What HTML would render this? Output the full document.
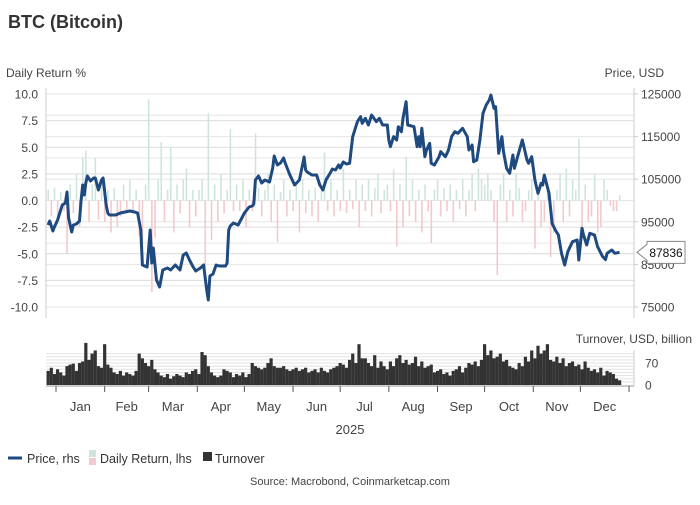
<!DOCTYPE html>
<html><head><meta charset="utf-8">
<style>
body{margin:0;background:#fff;font-family:"Liberation Sans",sans-serif;}
svg text{font-family:"Liberation Sans",sans-serif;}
</style></head>
<body>
<svg id="chart" width="700" height="500" viewBox="0 0 700 500" xmlns="http://www.w3.org/2000/svg">
<text x="8" y="28" font-size="18" font-weight="bold" fill="#333">BTC (Bitcoin)</text>
<text x="6" y="77" font-size="12" fill="#444">Daily Return %</text>
<text x="664" y="77" font-size="12" fill="#444" text-anchor="end">Price, USD</text>
<text x="692" y="343" font-size="12" fill="#444" text-anchor="end">Turnover, USD, billion</text>
<g id="grid"></g><g id="rets"></g><g id="turn"></g><g id="axes"></g><g id="price"></g>
<text x="350" y="434" font-size="13" fill="#444" text-anchor="middle">2025</text>
<g>
<line x1="8" y1="458" x2="22" y2="458" stroke="#1f4a7f" stroke-width="3"/>
<text x="27" y="463" font-size="12.5" fill="#333">Price, rhs</text>
<rect x="89" y="450" width="7" height="7" fill="#cfe5dc"/>
<rect x="89" y="458" width="7" height="7" fill="#f2c9cc"/>
<text x="100" y="463" font-size="12.5" fill="#333">Daily Return, lhs</text>
<rect x="203" y="452" width="9" height="9" fill="#333"/>
<text x="215" y="463" font-size="12.5" fill="#333">Turnover</text>
</g>
<text x="350" y="485" font-size="11" fill="#444" text-anchor="middle">Source: Macrobond, Coinmarketcap.com</text>
</svg>
<script>
const priceDays=[-5,-4,-2,-1,1,3,4,6,7,8,10,11,13,15,16,17,18,19,20,22,24,25,27,29,30,32,33,34,38,41,44,47,50,52,54,55,58,60,61,62,64,66,68,71,73,76,79,81,83,85,87,89,92,94,96,97,98,100,102,104,108,109,110,111,113,116,118,120,123,125,126,127,129,131,133,136,138,139,141,143,145,146,149,152,155,157,158,159,160,163,166,168,170,172,175,176,178,180,181,183,185,187,189,192,194,195,197,199,201,204,206,208,211,212,213,215,217,218,220,221,223,224,228,230,231,232,233,235,236,238,239,241,244,245,248,250,252,254,256,259,262,263,265,266,268,270,272,274,276,277,279,280,282,284,285,287,289,291,292,294,297,298,300,301,303,305,306,307,309,310,311,314,316,318,320,322,324,326,329,332,333,335,336,338,340,343,345,348,350,351,354,356,359];
const prices=[94250,95190,92840,93780,95420,97770,98940,99410,101990,95890,92600,94250,94480,95190,100120,103640,101290,104110,105750,104580,105280,105280,102460,104810,105280,98940,97070,96600,96600,97070,97300,97540,97300,97070,93080,84860,84390,93080,85330,88850,81340,79700,83690,84160,83690,84860,83690,87210,87680,86040,84630,83450,84160,84860,79000,76650,82280,82750,84860,84630,84630,85330,93080,94010,94720,94250,95660,97070,98470,98710,99180,104810,105750,104110,104810,104340,107630,110440,108330,108800,109970,108800,105980,103640,104810,108330,110210,107160,106690,105980,105980,103640,102460,104810,106690,107390,107160,108330,107630,109040,108570,108730,114970,118490,119670,118110,119290,117720,120070,118490,119290,117720,117720,114200,112630,114970,114200,117320,116150,119290,123190,117720,117320,112630,114970,112630,116950,110280,111850,113420,108730,108330,110280,111450,110280,111850,114970,116150,115770,116950,114970,111850,113030,109110,109500,114200,120470,122410,123590,124760,121640,122020,111080,114970,111450,107560,106380,110680,107560,110280,114200,112630,109500,108730,110280,104810,103240,101690,104040,103640,105980,101690,94650,93080,91900,87610,84860,87980,90330,90730,86040,93480,91900,89560,92300,91900,89160,86930,86140,87610,88380,87610,87836];
const returns=[1.0,-1.5,1.2,-2.0,0.8,-1.0,-5.0,1.5,-1.2,2.5,-2.5,4.1,4.7,-2.0,1.5,4.0,-1.8,1.8,
-2.0,1.0,-3.0,1.2,-2.5,-1.5,1.5,-1.0,2.0,-1.2,1.0,-3.3,-4.0,1.5,9.5,-8.6,-3.5,2.0,
5.5,-2.0,1.0,5.0,-3.0,1.5,-1.2,2.0,3.0,-2.5,1.0,-1.5,
1.0,2.0,-6.3,8.2,-3.7,1.5,-2.0,2.5,-1.2,1.0,6.7,-1.0,
1.5,-1.0,2.0,-2.5,1.0,-1.0,6.3,1.2,-1.5,1.0,2.5,-2.0,
1.5,-3.9,0.8,2.0,-1.5,1.0,-1.0,1.5,-3.0,2.0,-1.2,1.0,
-1.5,1.2,-2.0,1.0,4.5,-1.0,2.0,-1.5,1.0,-1.0,3.0,-1.2,
1.0,-0.8,2.0,-2.5,1.5,-1.0,2.0,-1.5,1.2,2.5,-1.2,1.0,
1.5,-1.0,2.9,-4.3,1.5,-2.5,4.1,-1.5,2.0,-2.0,1.0,-3.0,
1.5,-1.0,-4.0,1.0,2.0,-1.5,1.2,-1.0,1.5,-2.0,1.0,-0.8,
2.0,-1.5,1.0,2.5,-1.0,3.0,2.0,1.5,2.5,1.0,-2.0,-7.0,
1.5,2.5,-2.0,1.0,-1.5,2.5,1.2,-2.0,-1.0,1.0,2.0,-4.5,
1.0,-2.5,-2.0,1.5,-5.3,-3.0,1.0,2.5,-2.0,3.0,-1.5,2.0,
1.0,5.8,-3.0,1.5,-2.0,-1.5,2.5,-3.0,-2.5,2.0,1.0,-0.5,-1.0,-1.0,0.5];
const turnover=[45,55,35,50,40,30,60,65,68,45,70,75,134,80,100,110,60,55,
130,65,55,40,35,45,30,40,35,30,45,100,85,70,60,80,50,40,
30,25,35,20,28,35,30,25,40,35,45,50,35,105,95,60,40,30,
25,30,50,45,40,25,35,30,40,25,35,70,60,55,50,55,70,85,
60,55,55,60,50,45,50,55,45,50,55,40,45,50,40,55,45,40,
50,55,60,70,65,55,80,100,70,130,85,85,70,60,95,55,75,60,
50,75,60,85,95,70,80,65,70,90,60,75,55,60,65,40,45,50,
35,40,30,45,50,60,40,55,70,65,75,60,80,130,95,110,85,90,
100,75,80,60,55,50,70,60,90,75,110,85,125,100,110,130,80,75,
90,70,85,60,70,75,60,65,50,75,55,45,50,40,55,30,45,40,35,20,15];
const monthLabels=["Jan","Feb","Mar","Apr","May","Jun","Jul","Aug","Sep","Oct","Nov","Dec"];
const monthStarts=[0,31,59,90,120,151,181,212,243,273,304,334,365];
const retTicks=[10,7.5,5,2.5,0,-2.5,-5,-7.5,-10];
const priceTicks=[125000,115000,105000,95000,85000,75000];
const turnTicks=[70,0];

const NS="http://www.w3.org/2000/svg";
const X0=46,X1=634;
const xs=d=>56+d*1.57;
const yRet=v=>200.5-v*10.65;
const yPrice=p=>200.5-(p-100000)/234.7;
const yTurn=v=>385-v*0.314;
function mk(tag,attrs,parent,txt){const e=document.createElementNS(NS,tag);for(const k in attrs)e.setAttribute(k,attrs[k]);if(txt!==undefined)e.textContent=txt;parent.appendChild(e);return e;}
const grid=document.getElementById('grid'),axes=document.getElementById('axes');
for(let v=-10;v<=10;v+=2.5){const g=mk('line',{x1:X0,x2:X1,y1:yRet(v),y2:yRet(v),stroke:'#dcdcdc','stroke-width':1},grid);

}
for(let p=75000;p<=125000;p+=5000){const g=mk('line',{x1:X0,x2:X1,y1:yPrice(p),y2:yPrice(p),stroke:'#e6e6e6','stroke-width':1},grid);

}
for(let v=10;v<=100;v+=10){const g=mk('line',{x1:X0,x2:X1,y1:yTurn(v),y2:yTurn(v),stroke:'#e2e2e2','stroke-width':1},grid);

}
let a=mk('line',{x1:X0,x2:X0,y1:88,y2:318,stroke:'#ccc'},axes);


a=mk('line',{x1:X1,x2:X1,y1:88,y2:318,stroke:'#ccc'},axes);


a=mk('line',{x1:X1,x2:X1,y1:350,y2:386,stroke:'#ccc'},axes);


a=mk('line',{x1:X0,x2:X1,y1:386,y2:386,stroke:'#999'},axes);


retTicks.forEach(v=>{const t=mk('text',{x:38,y:yRet(v)+4.5,'font-size':12,fill:'#444','text-anchor':'end'},axes,v.toFixed(1));

});
priceTicks.forEach(p=>{const t=mk('text',{x:641,y:yPrice(p)+4.5,'font-size':12,fill:'#444'},axes,String(p));


const tk=mk('line',{x1:X1,x2:X1+4,y1:yPrice(p),y2:yPrice(p),stroke:'#ccc'},axes);

});
turnTicks.forEach(v=>{const t=mk('text',{x:645,y:yTurn(v)+4.5,'font-size':12,fill:'#444'},axes,String(v));

});
monthStarts.forEach((d,i)=>{const tk=mk('line',{x1:xs(d),x2:xs(d),y1:386,y2:392,stroke:'#555'},axes);


if(i<12){const t=mk('text',{x:(xs(d)+xs(monthStarts[i+1]))/2,y:411,'font-size':13,fill:'#444','text-anchor':'middle'},axes,monthLabels[i]);

}});
const rg=document.getElementById('rets');
returns.forEach((v,i)=>{const d=-5+2*i;const y=yRet(v),y0=yRet(0);
const r=mk('rect',{x:xs(d)-0.7,width:1.6,y:Math.min(y,y0),height:Math.abs(y-y0),fill:v>=0?'#cfe5dc':'#f2c9cc'},rg);

});
const tg=document.getElementById('turn');
turnover.forEach((v,i)=>{const d=-5+2*i;
const r=mk('rect',{x:xs(d)-1.6,width:3.2,y:yTurn(v),height:385-yTurn(v),fill:'#333'},tg);

});
const pg=document.getElementById('price');
const pts=priceDays.map((d,i)=>xs(d).toFixed(1)+','+yPrice(prices[i]).toFixed(1)).join(' ');
const pl=mk('polyline',{points:pts,fill:'none',stroke:'#1f4a7f','stroke-width':3,'stroke-linejoin':'round'},pg);


const last=prices[prices.length-1],ly=yPrice(last);
const box=mk('path',{d:`M637 ${ly} L647 ${ly-8} L647 ${ly-11} L685 ${ly-11} L685 ${ly+11} L647 ${ly+11} L647 ${ly+8} Z`,fill:'#fff',stroke:'#888'},pg);


const lt=mk('text',{x:666,y:ly+4.5,'font-size':12,fill:'#111','text-anchor':'middle'},pg,String(last));


</script>
</body></html>
